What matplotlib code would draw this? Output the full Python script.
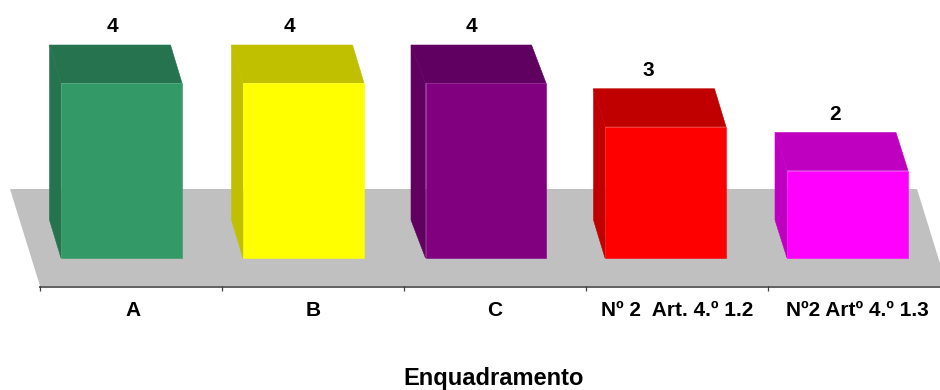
import matplotlib
matplotlib.use("Agg")
import matplotlib.pyplot as plt
from matplotlib.patches import Polygon

categories = ['A', 'B', 'C', 'Nº 2  Art. 4.º 1.2', 'Nº2 Artº 4.º 1.3']
values = [4, 4, 4, 3, 2]
xlabel = 'Enquadramento'

front_colors = ['#339966', '#FFFF00', '#800080', '#FF0000', '#FF00FF']
dark_colors = ['#267350', '#C0C000', '#600060', '#C00000', '#C000C0']

# layout, in pixels of the 940x390 picture
W, H = 940, 390
base_px = 258
px_per_unit = 43.75
bar_left = [61, 243, 425.5, 605, 787]
bar_w = [121, 121, 120.5, 121, 121]
depth_x = [11.5, 11.5, 14.5, 11.5, 12]
depth_y = 38 / px_per_unit
tick_x = [40, 222, 404, 586, 768]
cat_x = [133, 313, 495, 677, 857]
label_x = [112, 289, 471, 648, 835]


def py(p):
    # pixel row -> value units
    return (base_px - p) / px_per_unit


plt.rcParams['font.family'] = ['Liberation Sans', 'DejaVu Sans']
fig = plt.figure(figsize=(W / 100, H / 100), dpi=100)
ax = fig.add_axes([0, 0, 1, 1])
ax.set_xlim(0, W)
ax.set_ylim(py(H), py(0))
ax.axis('off')

# floor
ax.add_patch(Polygon([(10, py(189)), (917, py(189)), (947, py(286)), (40, py(286))],
                     closed=True, fc='#C0C0C0', ec='none', zorder=1))

# axis line and ticks
ax.plot([40, W], [py(286.5), py(286.5)], color='#606060', lw=1.4, zorder=2)
ax.vlines(tick_x, py(291), py(286), color='#404040', lw=0.9, zorder=2)

for i, v in enumerate(values):
    x0, w, dx = bar_left[i], bar_w[i], depth_x[i]
    ax.bar(x0, v, width=w, align='edge', color=front_colors[i],
           edgecolor=front_colors[i], linewidth=0.4, zorder=4)
    # side face
    ax.add_patch(Polygon([(x0 - dx, depth_y), (x0, 0), (x0, v), (x0 - dx, v + depth_y)],
                         closed=True, fc=dark_colors[i], ec=dark_colors[i], lw=0.4, zorder=3))
    # top face
    ax.add_patch(Polygon([(x0 - dx, v + depth_y), (x0 + w - dx, v + depth_y), (x0 + w, v), (x0, v)],
                         closed=True, fc=dark_colors[i], ec=dark_colors[i], lw=0.4, zorder=3))
    ax.text(label_x[i], v + depth_y + 13 / px_per_unit, str(v), ha='center', va='baseline',
            fontsize=15, fontweight='bold', color='black', zorder=5)
    ax.text(cat_x[i], py(311), categories[i], ha='center', va='center',
            fontsize=15, fontweight='bold', color='black', zorder=5)

ax.text(494, py(378), xlabel, ha='center', va='center', fontsize=17, fontweight='bold', color='black')

fig.savefig('out.png', dpi=100)
